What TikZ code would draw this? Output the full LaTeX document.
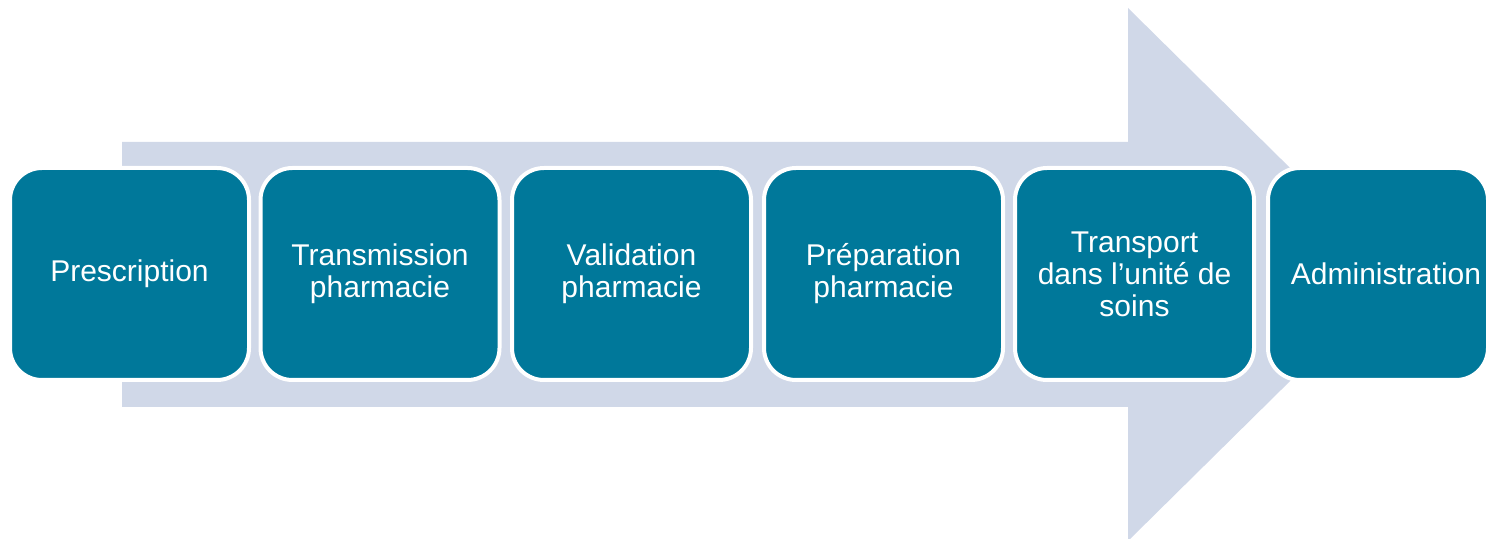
\documentclass[tikz,border=0pt]{standalone}
\usepackage{fontspec}
\setmainfont{Liberation Sans}
\usepackage{xcolor}
\usetikzlibrary{shapes.geometric, positioning}
\definecolor{circuit-teal}{RGB}{0,120,154}
\definecolor{circuit-lavender}{RGB}{208,216,232}

\begin{document}
\begin{tikzpicture}[x=0.5pt, y=-0.5pt,
  block/.style={draw=white, line width=2pt, fill=circuit-teal, rounded corners=16pt, minimum width=119.5pt, minimum height=106pt, align=center, text=white, font=\fontsize{15}{16}\selectfont, inner sep=0pt},
  flow/.style={fill=circuit-lavender},
]
  \useasboundingbox (0,0) rectangle (1488,539);
  \clip (0,0) rectangle (1488,539);

  % large background arrow
  \fill[flow] (122,142) -- (1128,142) -- (1128,8) -- (1398,274.5) -- (1128,541) -- (1128,407) -- (122,407) -- cycle;

  \node[block] (presc) at (129.5,274) {Prescription};
  \node[block] (trans) at (380,274) {Transmission\\pharmacie};
  \node[block] (valid) at (631.5,274) {Validation\\pharmacie};
  \node[block] (prep) at (883.5,274) {Préparation\\pharmacie};
  \node[block] (transport) at (1134.5,274) {Transport\\dans l’unité de\\soins};
  \node[block, minimum width=110pt] (admin) at (1378,274) {\hspace*{8pt}Administration};
\end{tikzpicture}
\end{document}
